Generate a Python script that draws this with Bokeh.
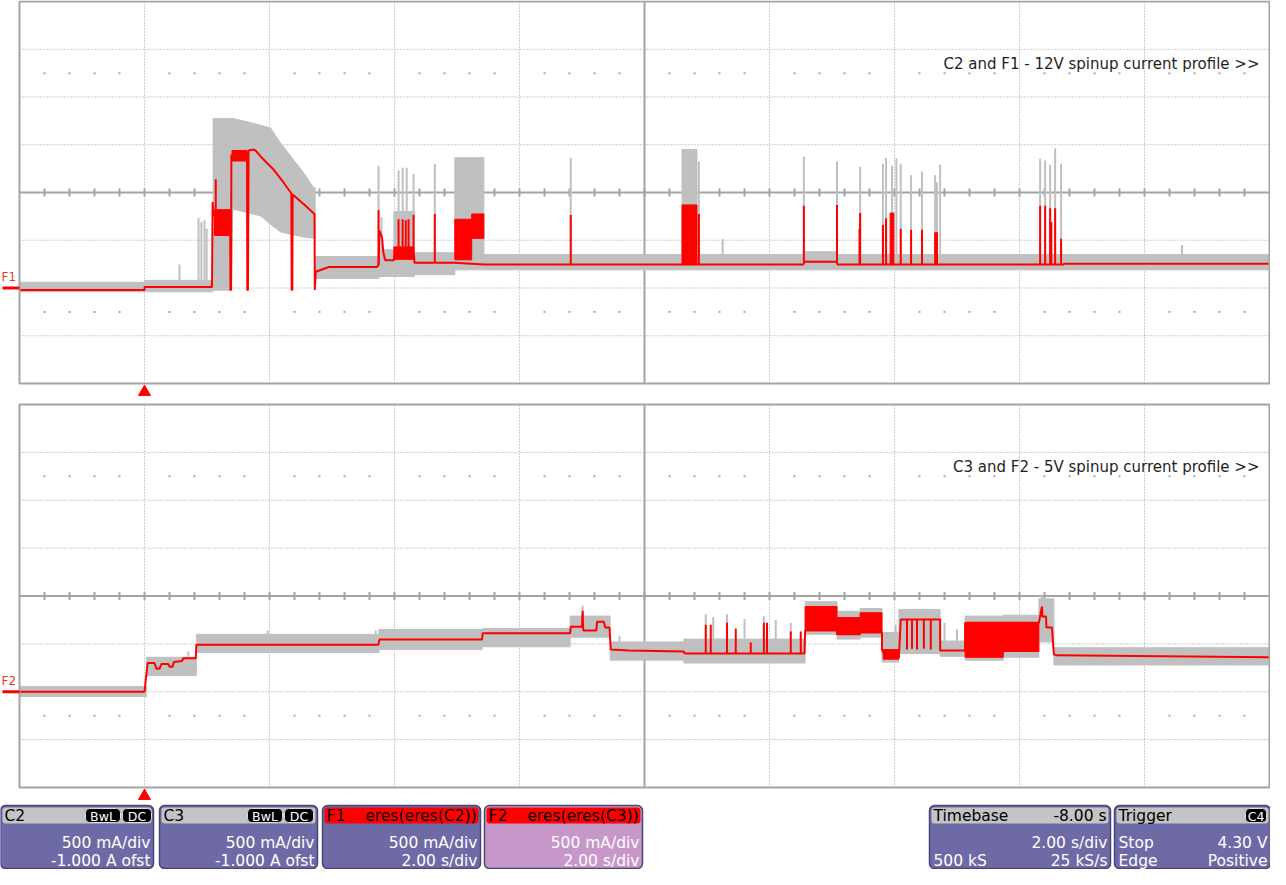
import numpy as np
from bokeh.plotting import figure
from bokeh.models import Range1d
from bokeh.layouts import column
from bokeh.embed import file_html
from bokeh.resources import INLINE
from bokeh.core.properties import value

# ---------------- scope settings (2.00 s/div, 500 mA/div, -1.000 A ofst) -------------
T_MIN, T_MAX = -2.0, 18.0        # time in s (trigger at 0, delay -8 s)
A_MIN, A_MAX = -1.0, 3.0         # current in A
T_DIV, A_DIV = 2.0, 0.5
trigger_t = [0.0]

# ---------------- Top: C2 (grey, raw) -------------------------------------------------
c2_band_t0 = [-2.0, 0.0, 2.74, 3.75, 3.99, 4.32, 4.965, 5.43, 8.60, 8.84, 10.55, 11.08]
c2_band_t1 = [0.0, 1.09, 3.75, 3.99, 4.32, 4.965, 5.43, 8.60, 8.84, 10.55, 11.08, 18.0]
c2_band_lo = [-0.04, -0.04, 0.10, 0.12, 0.12, 0.14, 0.19, 0.19, 0.19, 0.19, 0.19, 0.19]
c2_band_hi = [0.06, 0.08, 0.33, 0.40, 0.80, 0.37, 1.365, 0.35, 1.45, 0.35, 0.38, 0.35]

c2_env_t = [1.09, 1.40, 1.42, 1.86, 2.02, 2.18, 2.39, 2.55, 2.71, 2.74]
c2_env_hi = [1.78, 1.78, 1.78, 1.71, 1.68, 1.52, 1.345, 1.21, 1.055, 1.055]
c2_env_lo = [-0.03, -0.03, 0.82, 0.75, 0.66, 0.58, 0.55, 0.53, 0.515, 0.515]

c2_spk_t = [0.56, 0.865, 0.91, 0.96, 0.995, 3.745, 3.79, 4.065, 4.13, 4.195, 4.305, 4.645,
            6.82, 8.87, 9.25, 10.55, 11.08, 11.45, 11.815, 11.865, 11.96, 12.03, 12.10,
            12.265, 12.44, 12.65, 12.68, 12.73, 14.33, 14.41, 14.49, 14.57, 14.665, 16.6]
c2_spk_lo = [0.05, 0.05, 0.05, 0.05, 0.05, 0.3, 0.3, 0.3, 0.3, 0.3, 0.3, 0.3,
             0.3, 0.3, 0.3, 0.3, 0.3, 0.3, 0.3, 0.3, 0.3, 0.3, 0.3,
             0.3, 0.3, 0.3, 0.3, 0.3, 0.3, 0.3, 0.3, 0.3, 0.3, 0.3]
c2_spk_hi = [0.245, 0.73, 0.69, 0.71, 0.62, 1.28, 0.74, 1.23, 1.26, 1.26, 1.19, 1.30,
             1.365, 1.325, 0.51, 1.375, 1.325, 1.27, 1.30, 1.365, 1.28, 1.355, 1.30,
             1.18, 1.22, 1.18, 1.105, 1.29, 1.355, 1.335, 1.29, 1.46, 1.30, 0.45]

# ---------------- Top: F1 = eres(eres(C2)) (red) ----------------------------------------
f1_t = [-2.0, 0.0, 0.0, 1.08, 1.09, 1.10, 1.15, 1.20, 1.26, 1.32, 1.37, 1.375, 1.385, 1.39,
        1.45, 1.50, 1.56, 1.64, 1.645, 1.655, 1.665, 1.745, 1.775, 1.905, 2.065, 2.225,
        2.35, 2.355, 2.365, 2.37, 2.545, 2.72, 2.725, 2.74, 2.95, 3.72, 3.745, 3.76, 3.80,
        3.82, 3.85, 3.99, 4.00, 4.31, 4.32, 4.96, 5.43, 10.54, 10.56, 11.07, 11.09, 14.70,
        14.72, 18.0]
f1_a = [-0.02, -0.02, 0.01, 0.01, 0.90, 0.80, 0.70, 0.76, 0.66, 0.73, 0.70, -0.02, -0.02, 1.39,
        1.40, 1.36, 1.41, 1.42, -0.02, -0.02, 1.44, 1.45, 1.44, 1.345, 1.24, 1.105,
        0.99, -0.02, -0.02, 0.98, 0.88, 0.775, -0.02, 0.17, 0.22, 0.22, 0.245, 0.60, 0.53,
        0.38, 0.29, 0.29, 0.35, 0.35, 0.265, 0.265, 0.245, 0.245, 0.275, 0.275, 0.245, 0.245,
        0.255, 0.255]

f1_blk_t0 = [1.12, 1.40, 3.99, 4.965, 5.235, 8.60, 11.93]
f1_blk_t1 = [1.37, 1.64, 4.31, 5.235, 5.43, 8.84, 11.99]
f1_blk_lo = [0.55, 1.33, 0.30, 0.295, 0.52, 0.245, 0.245]
f1_blk_hi = [0.82, 1.44, 0.43, 0.72, 0.775, 0.87, 0.785]

f1_spk_t = [1.14, 3.745, 4.065, 4.13, 4.18, 4.225, 4.305, 4.645, 6.82, 8.87, 10.55, 11.08,
            11.44, 11.45, 11.815, 11.865, 12.10, 12.265, 12.44, 12.65, 12.68, 14.33, 14.41,
            14.49, 14.51, 14.57, 14.665]
f1_spk_lo = [0.70, 0.245, 0.35, 0.35, 0.35, 0.35, 0.35, 0.265, 0.245, 0.245, 0.27, 0.27,
             0.245, 0.245, 0.245, 0.245, 0.245, 0.245, 0.245, 0.245, 0.245, 0.245, 0.245,
             0.245, 0.245, 0.245, 0.245]
f1_spk_hi = [1.14, 0.815, 0.72, 0.72, 0.71, 0.72, 0.765, 0.775, 0.765, 0.775, 0.86, 0.87,
             0.62, 0.785, 0.66, 0.73, 0.62, 0.61, 0.61, 0.585, 0.585, 0.86, 0.86,
             0.835, 0.69, 0.835, 0.515]

# ---------------- Bottom: C3 (grey, raw) ------------------------------------------------
c3_band_t0 = [-2.0, 0.03, 0.83, 3.75, 5.40, 6.81, 7.45, 8.63, 10.57, 11.08, 11.45, 11.80,
              12.07, 12.73, 13.13, 13.74, 14.31, 14.55]
c3_band_t1 = [0.03, 0.83, 3.75, 5.40, 6.81, 7.45, 8.63, 10.57, 11.08, 11.45, 11.80, 12.07,
              12.73, 13.13, 13.74, 14.31, 14.55, 18.0]
c3_band_lo = [-0.05, 0.17, 0.41, 0.44, 0.47, 0.57, 0.33, 0.30, 0.60, 0.55, 0.57, 0.31,
              0.40, 0.37, 0.33, 0.36, 0.52, 0.28]
c3_band_hi = [0.055, 0.36, 0.60, 0.65, 0.66, 0.79, 0.52, 0.55, 0.94, 0.84, 0.87, 0.62,
              0.86, 0.53, 0.79, 0.80, 0.97, 0.46]

c3_spk_t = [0.70, 1.97, 3.70, 7.01, 7.60, 8.98, 9.10, 9.32, 9.60, 9.91, 10.10, 10.34,
            12.02, 12.80, 13.00, 14.36]
c3_spk_lo = [0.30, 0.55, 0.55, 0.75, 0.45, 0.50, 0.50, 0.50, 0.50, 0.50, 0.50, 0.50,
             0.50, 0.50, 0.50, 0.90]
c3_spk_hi = [0.42, 0.64, 0.64, 0.90, 0.58, 0.81, 0.78, 0.81, 0.76, 0.79, 0.75, 0.72,
             0.70, 0.72, 0.65, 1.00]

# ---------------- Bottom: F2 = eres(eres(C3)) (red) -------------------------------------
f2_t = [-2.0, 0.0, 0.02, 0.05, 0.16, 0.19, 0.24, 0.27, 0.38, 0.40, 0.45, 0.47, 0.60, 0.62,
        0.82, 0.83, 3.74, 3.76, 5.40, 5.41, 6.81, 6.82, 7.00, 7.01, 7.02, 7.23, 7.24, 7.35,
        7.37, 7.44, 7.46, 7.75, 8.63, 8.64, 10.56, 10.57, 11.08, 11.08, 11.45, 11.45, 11.80,
        11.80, 11.86, 12.07, 12.10, 12.73, 12.73, 13.13, 13.13, 14.31, 14.36, 14.365,
        14.425, 14.43, 14.52, 14.55, 14.60, 18.0]
f2_a = [0.0, 0.0, 0.12, 0.30, 0.30, 0.24, 0.24, 0.29, 0.29, 0.26, 0.26, 0.31, 0.32, 0.35,
        0.35, 0.49, 0.49, 0.545, 0.545, 0.61, 0.61, 0.68, 0.68, 0.845, 0.64, 0.64, 0.73, 0.73,
        0.67, 0.67, 0.44, 0.43, 0.42, 0.40, 0.40, 0.64, 0.64, 0.60, 0.60, 0.62, 0.62,
        0.44, 0.36, 0.36, 0.755, 0.755, 0.43, 0.43, 0.72, 0.72, 0.89, 0.785,
        0.785, 0.67, 0.67, 0.39, 0.38, 0.36]

f2_blk_t0 = [10.57, 11.08, 11.45, 11.82, 13.13, 13.74]
f2_blk_t1 = [11.08, 11.45, 11.80, 12.07, 13.74, 14.31]
f2_blk_lo = [0.64, 0.60, 0.62, 0.34, 0.36, 0.42]
f2_blk_hi = [0.89, 0.775, 0.825, 0.44, 0.72, 0.72]

f2_spk_t = [8.98, 9.06, 9.32, 9.46, 9.70, 9.91, 9.96, 10.34, 10.50, 12.20, 12.28, 12.36,
            12.47, 12.58]
f2_spk_lo = [0.40, 0.40, 0.40, 0.40, 0.40, 0.40, 0.40, 0.40, 0.40, 0.44, 0.45, 0.44,
             0.45, 0.44]
f2_spk_hi = [0.70, 0.70, 0.72, 0.66, 0.515, 0.72, 0.72, 0.63, 0.63, 0.755, 0.755, 0.755,
             0.755, 0.755]

# ---------------- texts ------------------------------------------------------------------
top_title = "C2 and F1 - 12V spinup current profile >>"
bottom_title = "C3 and F2 - 5V spinup current profile >>"
top_marker = "F1"
bottom_marker = "F2"

info_hdr_left = ["C2", "C3", "F1", "F2", "Timebase", "Trigger"]
info_hdr_right = ["", "", "eres(eres(C2))", "eres(eres(C3))", "-8.00 s", ""]
info_l1_left = ["", "", "", "", "", "Stop"]
info_l1_right = ["500 mA/div", "500 mA/div", "500 mA/div", "500 mA/div", "2.00 s/div", "4.30 V"]
info_l2_left = ["", "", "", "", "500 kS", "Edge"]
info_l2_right = ["-1.000 A ofst", "-1.000 A ofst", "2.00 s/div", "2.00 s/div", "25 kS/s", "Positive"]
badge_text = ["BwL", "DC", "BwL", "DC", "C4"]

# ---------------- styles / layout ---------------------------------------------------------
RED = "#ff0000"
GREY = "#c0c0c0"
GRID = "#9c9c9c"
FONT = value("DejaVu Sans")
W = 1270
PX_PER_S = 62.5
X_LO = T_MIN - 19 / PX_PER_S
X_HI = T_MAX + 1 / PX_PER_S


def make_panel(height, y_lo, y_hi, px_per_a):
    p = figure(width=W, height=height, x_range=Range1d(X_LO, X_HI),
               y_range=Range1d(y_lo, y_hi), output_backend="svg", toolbar_location=None,
               x_axis_type=None, y_axis_type=None, min_border=0, outline_line_color=None)
    p.background_fill_color = "white"
    p.border_fill_color = "white"
    t_div = np.arange(T_MIN, T_MAX + 1e-9, T_DIV)
    a_div = np.arange(A_MIN, A_MAX + 1e-9, A_DIV)
    t_mid = (T_MIN + T_MAX) / 2
    a_mid = (A_MIN + A_MAX) / 2
    vt = [t for t in t_div[1:-1] if abs(t - t_mid) > 1e-9]
    ha = [a for a in a_div[1:-1] if abs(a - a_mid) > 1e-9]
    p.segment(x0=vt, y0=[A_MIN] * len(vt), x1=vt, y1=[A_MAX] * len(vt),
              line_color=GRID, line_width=1, line_dash="1 2")
    p.segment(x0=[T_MIN] * len(ha), y0=ha, x1=[T_MAX] * len(ha), y1=ha,
              line_color=GRID, line_width=1, line_dash="1 2")
    # minor dots rows
    t_minor = np.arange(T_MIN, T_MAX + 1e-9, T_DIV / 5)
    t_dots = [t for t in t_minor[1:-1] if abs((t - T_MIN) / T_DIV - round((t - T_MIN) / T_DIV)) > 1e-6]
    for a in (a_mid + 2.5 * A_DIV, a_mid - 2.5 * A_DIV):
        p.scatter(x=t_dots, y=[a] * len(t_dots), size=2, marker="square",
                  color="#a8a8a8", line_color=None)
    # centre cross
    p.segment(x0=[T_MIN, t_mid], y0=[a_mid, A_MIN], x1=[T_MAX, t_mid], y1=[a_mid, A_MAX],
              line_color="#a4a4a4", line_width=2)
    th = 4 / px_per_a
    tt = list(t_minor[1:-1])
    p.segment(x0=tt, y0=[a_mid - th] * len(tt), x1=tt, y1=[a_mid + th] * len(tt),
              line_color="#a4a4a4", line_width=2)
    return p


def draw_frame(p, px_per_a, marker_label, title):
    p.quad(left=[T_MIN], right=[T_MAX], bottom=[A_MIN], top=[A_MAX], fill_color=None,
           line_color="#a4a4a4", line_width=2)
    # trigger marker
    p.scatter(x=trigger_t, y=[A_MIN - 8.5 / px_per_a], marker="triangle", size=12,
              color=RED, line_color=RED)
    # channel marker (zero level)
    p.segment(x0=[T_MIN - 17 / PX_PER_S], y0=[0.0], x1=[T_MIN], y1=[0.0],
              line_color=RED, line_width=3)
    p.text(x=[T_MIN - 18 / PX_PER_S], y=[11 / px_per_a], text=[marker_label],
           text_align="left", text_baseline="middle", text_font=FONT,
           text_font_size="12px", text_color="#f23a1a")
    p.text(x=[T_MIN + 1240 / PX_PER_S], y=[A_MAX - 62 / px_per_a], text=[title],
           text_align="right", text_baseline="middle", text_font=FONT,
           text_font_size="15px", text_color="#1e1e1e")


def draw_traces(p, band, env, gspk, red_line, red_blk, red_spk):
    b0, b1, blo, bhi = band
    p.quad(left=b0, right=b1, bottom=blo, top=bhi, fill_color=GREY, line_color=GREY,
           line_width=1)
    if env is not None:
        et, elo, ehi = env
        p.varea(x=et, y1=elo, y2=ehi, fill_color=GREY)
    st, slo, shi = gspk
    p.segment(x0=st, y0=slo, x1=st, y1=shi, line_color=GREY, line_width=2)
    lt, la = red_line
    p.line(lt, la, line_color=RED, line_width=2)
    k0, k1, klo, khi = red_blk
    p.quad(left=k0, right=k1, bottom=klo, top=khi, fill_color=RED, line_color=RED,
           line_width=1)
    rt, rlo, rhi = red_spk
    p.segment(x0=rt, y0=rlo, x1=rt, y1=rhi, line_color=RED, line_width=2)


# ---- top panel: 402 px tall, 4 A in 382 px
PXA1 = 95.5
p1 = make_panel(402, A_MIN - 19 / PXA1, A_MAX + 1 / PXA1, PXA1)
draw_traces(p1, (c2_band_t0, c2_band_t1, c2_band_lo, c2_band_hi),
            (c2_env_t, c2_env_lo, c2_env_hi),
            (c2_spk_t, c2_spk_lo, c2_spk_hi),
            (f1_t, f1_a), (f1_blk_t0, f1_blk_t1, f1_blk_lo, f1_blk_hi),
            (f1_spk_t, f1_spk_lo, f1_spk_hi))
draw_frame(p1, PXA1, top_marker, top_title)

# ---- bottom panel: 400 px tall
PXA2 = 95.75
p2 = make_panel(400, A_MAX + 2 / PXA2 - 400 / PXA2, A_MAX + 2 / PXA2, PXA2)
draw_traces(p2, (c3_band_t0, c3_band_t1, c3_band_lo, c3_band_hi), None,
            (c3_spk_t, c3_spk_lo, c3_spk_hi),
            (f2_t, f2_a), (f2_blk_t0, f2_blk_t1, f2_blk_lo, f2_blk_hi),
            (f2_spk_t, f2_spk_lo, f2_spk_hi))
draw_frame(p2, PXA2, bottom_marker, bottom_title)

# ---- info strip (pixel-like coordinates, y downward)
H3 = 67
p3 = figure(width=W, height=H3, x_range=Range1d(0, W), y_range=Range1d(H3, 0),
            output_backend="svg", toolbar_location=None, x_axis_type=None,
            y_axis_type=None, min_border=0, outline_line_color=None)
p3.background_fill_color = "white"
p3.border_fill_color = "white"

box_l = [0, 159, 322, 484, 929, 1114]
box_r = [153, 317, 480, 642, 1110, 1270]
body_col = ["#6e6aa6", "#6e6aa6", "#6e6aa6", "#c897c9", "#6e6aa6", "#6e6aa6"]
hdr_col = ["#c4c4c4", "#c4c4c4", RED, RED, "#c4c4c4", "#c4c4c4"]
n = len(box_l)
p3.quad(left=box_l, right=box_r, top=[3] * n, bottom=[66] * n, fill_color=body_col,
        line_color="#48457a", line_width=1.5, border_radius=5)
p3.quad(left=[l + 2 for l in box_l], right=[r - 2 for r in box_r], top=[5] * n,
        bottom=[21] * n, fill_color=hdr_col, line_color=None, border_radius=3)
p3.text(x=[l + 4 for l in box_l], y=[13.5] * n, text=info_hdr_left, text_align="left",
        text_baseline="middle", text_font=FONT, text_font_size="15.5px", text_color="black")
p3.text(x=[r - 4 for r in box_r], y=[13.5] * n, text=info_hdr_right, text_align="right",
        text_baseline="middle", text_font=FONT, text_font_size="15.5px", text_color="black")
p3.text(x=[l + 4 for l in box_l], y=[40] * n, text=info_l1_left, text_align="left",
        text_baseline="middle", text_font=FONT, text_font_size="15.5px", text_color="white")
p3.text(x=[r - 3 for r in box_r], y=[40] * n, text=info_l1_right, text_align="right",
        text_baseline="middle", text_font=FONT, text_font_size="15.5px", text_color="white")
p3.text(x=[l + 4 for l in box_l], y=[58] * n, text=info_l2_left, text_align="left",
        text_baseline="middle", text_font=FONT, text_font_size="15.5px", text_color="white")
p3.text(x=[r - 3 for r in box_r], y=[58] * n, text=info_l2_right, text_align="right",
        text_baseline="middle", text_font=FONT, text_font_size="15.5px", text_color="white")

badge_l = [85, 122, 247, 284, 1245]
badge_r = [120, 151, 282, 313, 1266]
p3.quad(left=badge_l, right=badge_r, top=[6] * 5, bottom=[20] * 5, fill_color="black",
        line_color="#dddddd", line_width=1, border_radius=4)
p3.text(x=[(a + b) / 2 for a, b in zip(badge_l, badge_r)], y=[13.5] * 5, text=badge_text,
        text_align="center", text_baseline="middle", text_font=FONT,
        text_font_size="12.5px", text_color="white")

layout = column(p1, p2, p3, spacing=0)
open("out.html", "w").write(file_html(layout, INLINE))
